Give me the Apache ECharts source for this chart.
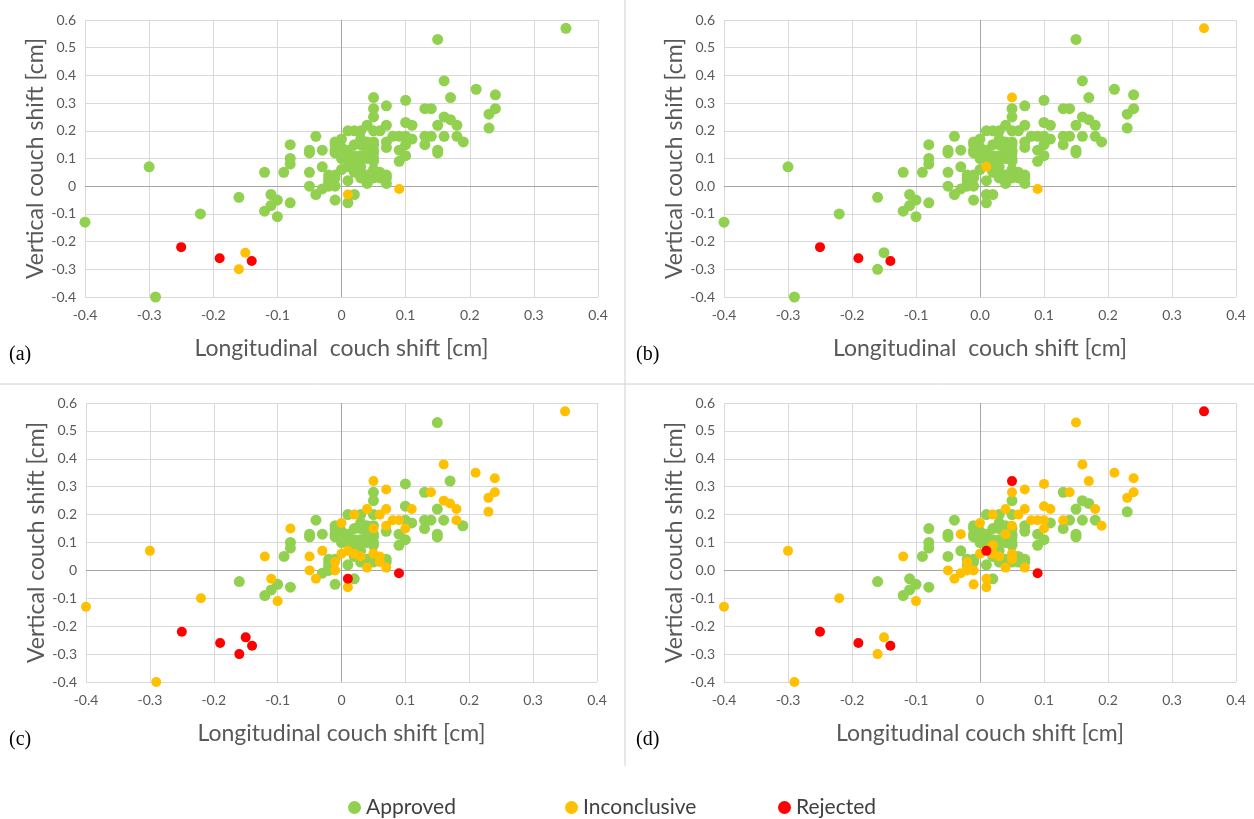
<!DOCTYPE html>
<html lang="en">
<head>
    <meta charset="utf-8">
    <title>Couch shift verdicts</title>
    <script src="https://cdn.jsdelivr.net/npm/echarts@6/dist/echarts.min.js"></script>
    <style>
        html, body { margin: 0; padding: 0; background: #fff; }
        #container { width: 1254px; height: 819px; }
    </style>
</head>
<body>
<div id="container"></div>
<script>
    // each point: [longitudinal, vertical, verdict in panel a/b/c/d]
    // G = Approved, O = Inconclusive, R = Rejected
    var lowerLeftPts = [
        [-0.40, -0.13, 'GGOO'], [-0.29, -0.40, 'GGOO'], [-0.30, 0.07, 'GGOO'],
        [-0.22, -0.10, 'GGOO'], [-0.25, -0.22, 'RRRR'], [-0.19, -0.26, 'RRRR'],
        [-0.14, -0.27, 'RRRR'], [-0.15, -0.24, 'OGRO'], [-0.16, -0.30, 'OGRO'],
        [-0.16, -0.04, 'GGGG'], [-0.12, 0.05, 'GGOO'], [-0.09, 0.05, 'GGGG'],
        [-0.11, -0.03, 'GGOG'], [-0.10, -0.05, 'GGGG'], [-0.11, -0.07, 'GGGG'],
        [-0.12, -0.09, 'GGGG'], [-0.10, -0.11, 'GGOO'], [-0.08, -0.06, 'GGGG'],
        [-0.08, 0.15, 'GGOG'], [-0.08, 0.10, 'GGGG'], [-0.08, 0.08, 'GGGG'],
        [-0.05, 0.13, 'GGGG'], [-0.05, 0.12, 'GGGG'], [-0.05, 0.05, 'GGOG'],
        [-0.05, 0.00, 'GGOO'], [-0.04, -0.03, 'GGOO'], [-0.04, 0.18, 'GGGG'],
        [-0.03, 0.13, 'GGGO'], [-0.03, 0.07, 'GGOG'], [-0.01, -0.05, 'GGGO'],
        [-0.03, -0.01, 'GGGO']
    ];
    var clusterPts = [
        [0.01, -0.03, 'OGRO'], [0.09, -0.01, 'OORR'], [0.02, -0.03, 'GGGG'],
        [0.01, -0.06, 'GGOO'], [0.01, 0.02, 'GGGG'],
        [0.00, 0.17, 'GGOO'], [-0.01, 0.16, 'GGGG'], [-0.01, 0.15, 'GGGG'],
        [-0.01, 0.13, 'GGGG'], [-0.01, 0.12, 'GGGG'], [0.00, 0.14, 'GGGG'],
        [0.00, 0.11, 'GGGG'], [0.00, 0.10, 'GGGG'], [0.00, 0.12, 'GGGG'],
        [0.01, 0.13, 'GGGG'], [0.01, 0.10, 'GGGG'], [0.01, 0.07, 'GOOR'],
        [0.00, 0.06, 'GGOO'], [0.02, 0.06, 'GGOO'], [0.03, 0.05, 'GGOO'],
        [0.02, 0.15, 'GGGG'], [0.02, 0.11, 'GGGG'], [0.02, 0.09, 'GGGO'],
        [0.02, 0.08, 'GGGG'], [0.02, 0.05, 'GGGG'], [0.03, 0.17, 'GGGG'],
        [0.03, 0.15, 'GGGG'], [0.03, 0.11, 'GGGG'], [0.03, 0.10, 'GGGG'],
        [0.03, 0.07, 'GGGG'], [0.03, 0.03, 'GGGG'], [0.04, 0.16, 'GGGG'],
        [0.04, 0.15, 'GGGG'], [0.04, 0.14, 'GGGG'], [0.04, 0.13, 'GGGO'],
        [0.04, 0.12, 'GGGG'], [0.04, 0.10, 'GGGG'], [0.04, 0.04, 'GGGG'],
        [0.04, 0.01, 'GGOO'], [0.05, 0.16, 'GGGO'], [0.05, 0.15, 'GGOG'],
        [0.05, 0.13, 'GGGG'], [0.05, 0.12, 'GGGG'], [0.05, 0.10, 'GGGG'],
        [0.05, 0.09, 'GGGG'], [0.05, 0.06, 'GGOO'], [0.05, 0.05, 'GGGO'],
        [0.05, 0.04, 'GGGO'], [0.05, 0.03, 'GGGG'], [0.06, 0.05, 'GGOG'],
        [0.06, 0.04, 'GGGG'], [0.06, 0.03, 'GGOG'], [0.07, 0.04, 'GGGG'],
        [0.07, 0.03, 'GGGG'], [0.07, 0.01, 'GGOO'], [-0.02, 0.04, 'GGGG'],
        [-0.02, 0.03, 'GGGO'], [-0.02, 0.02, 'GGGG'], [-0.02, 0.01, 'GGGO'],
        [-0.02, 0.00, 'GGGO'], [-0.01, 0.04, 'GGGG'], [-0.01, 0.03, 'GGOG'],
        [-0.01, 0.00, 'GGOO']
    ];
    var upperRightPts = [
        [0.35, 0.57, 'GOOR'], [0.15, 0.53, 'GGGO'], [0.16, 0.38, 'GGOO'],
        [0.21, 0.35, 'GGOO'], [0.24, 0.33, 'GGOO'], [0.17, 0.32, 'GGGO'],
        [0.05, 0.32, 'GOOR'], [0.10, 0.31, 'GGGO'], [0.07, 0.29, 'GGOO'],
        [0.05, 0.28, 'GGGO'], [0.13, 0.28, 'GGGG'], [0.14, 0.28, 'GGOO'],
        [0.24, 0.28, 'GGOO'], [0.23, 0.26, 'GGOO'], [0.05, 0.25, 'GGGG'],
        [0.16, 0.25, 'GGOG'], [0.17, 0.24, 'GGOG'], [0.18, 0.22, 'GGOO'],
        [0.15, 0.22, 'GGGG'], [0.23, 0.21, 'GGOG'], [0.10, 0.23, 'GGGO'],
        [0.11, 0.22, 'GGOO'], [0.07, 0.22, 'GGOO'], [0.04, 0.22, 'GGOO'],
        [0.01, 0.20, 'GGGG'], [0.02, 0.20, 'GGOO'], [0.03, 0.20, 'GGGG'],
        [0.05, 0.20, 'GGGG'], [0.06, 0.20, 'GGOO'], [0.16, 0.18, 'GGGG'],
        [0.18, 0.18, 'GGOG'], [0.13, 0.18, 'GGGO'], [0.14, 0.18, 'GGGG'],
        [0.19, 0.16, 'GGGO'], [0.08, 0.18, 'GGOO'], [0.09, 0.18, 'GGOO'],
        [0.10, 0.18, 'GGGO'], [0.11, 0.17, 'GGGG'], [0.13, 0.15, 'GGGG'],
        [0.15, 0.13, 'GGGG'], [0.15, 0.12, 'GGGG'], [0.09, 0.13, 'GGGG'],
        [0.10, 0.15, 'GGOO'], [0.07, 0.16, 'GGOG'], [0.07, 0.14, 'GGGG'],
        [0.10, 0.11, 'GGGG'], [0.09, 0.09, 'GGGG']
    ];

    var panelLabels = ['(a)', '(b)', '(c)', '(d)'];
    var xTitles = ['Longitudinal  couch shift [cm]', 'Longitudinal  couch shift [cm]',
        'Longitudinal couch shift [cm]', 'Longitudinal couch shift [cm]'];
    var yTitle = 'Vertical couch shift [cm]';
    // tick labels: true = one decimal ("0.0"), false = plain ("0")
    var xFixed = [false, true, false, false];
    var yFixed = [false, true, false, true];
    var verdicts = ['Approved', 'Inconclusive', 'Rejected'];
    var verdictCodes = ['G', 'O', 'R'];
    var verdictColors = ['#92d050', '#ffc000', '#ff0000'];
    var verdictSizes = [11, 10, 10];

    var allPts = lowerLeftPts.concat(clusterPts, upperRightPts);

    var grids = [
        {left: 85, top: 20, width: 513, height: 277},
        {left: 724, top: 20, width: 512, height: 277},
        {left: 86, top: 403, width: 511, height: 279},
        {left: 724, top: 403, width: 512, height: 279}
    ];

    function fmt(fixed) {
        return function (v) {
            var r = Math.round(v * 10) / 10;
            if (fixed) return r.toFixed(1);
            return String(r);
        };
    }

    var font = 'Lato, "Open Sans", sans-serif';
    var xAxes = [], yAxes = [], series = [], graphics = [];

    for (var p = 0; p < 4; p++) {
        xAxes.push({
            gridIndex: p, type: 'value', min: -0.4, max: 0.4, interval: 0.1,
            name: xTitles[p], nameLocation: 'middle', nameGap: 40,
            nameTextStyle: {color: '#595959', fontSize: 23, fontFamily: font},
            axisLine: {show: false, onZero: false}, axisTick: {show: false},
            axisLabel: {color: '#595959', fontSize: 14, fontFamily: font, margin: 11, formatter: fmt(xFixed[p])},
            splitLine: {show: true, lineStyle: {color: '#d9d9d9', width: 1}}
        });
        yAxes.push({
            gridIndex: p, type: 'value', min: -0.4, max: 0.6, interval: 0.1,
            name: yTitle, nameLocation: 'middle', nameGap: 38, nameRotate: 90,
            nameTextStyle: {color: '#595959', fontSize: 23, fontFamily: font},
            axisLine: {show: false, onZero: false}, axisTick: {show: false},
            axisLabel: {color: '#595959', fontSize: 14, fontFamily: font, margin: 9, formatter: fmt(yFixed[p])},
            splitLine: {show: true, lineStyle: {color: '#d9d9d9', width: 1}}
        });
        for (var s = 0; s < 3; s++) {
            var code = verdictCodes[s];
            var data = allPts.filter(function (pt) { return pt[2].charAt(p) === code; })
                .map(function (pt) { return [pt[0], pt[1]]; });
            var ser = {
                name: verdicts[s], type: 'scatter', xAxisIndex: p, yAxisIndex: p,
                symbolSize: verdictSizes[s], data: data,
                itemStyle: {color: verdictColors[s], opacity: 1},
                z: 3 + s
            };
            if (s === 0) {
                // darker zero lines like the spreadsheet axes
                ser.markLine = {
                    silent: true, symbol: 'none', label: {show: false},
                    lineStyle: {color: '#a6a6a6', width: 1, type: 'solid'},
                    data: [{xAxis: 0}, {yAxis: 0}], z: 1
                };
            }
            series.push(ser);
        }
        graphics.push({
            type: 'text', left: p % 2 === 0 ? 9 : 636, top: p < 2 ? 345 : 730,
            style: {text: panelLabels[p], fill: '#000', fontSize: 20, fontFamily: '"Liberation Serif", serif'}
        });
    }

    // panel dividers
    graphics.push({type: 'line', shape: {x1: 0, y1: 384, x2: 1254, y2: 384}, style: {stroke: '#d0d0d0', lineWidth: 1}});
    graphics.push({type: 'line', shape: {x1: 625, y1: 0, x2: 625, y2: 766}, style: {stroke: '#d0d0d0', lineWidth: 1}});

    // one legend per verdict so the columns sit where the spreadsheet put them
    var legendLefts = [343, 560, 773];
    var legends = verdicts.map(function (name, i) {
        return {
            data: [name], top: 792, left: legendLefts[i], icon: 'circle',
            itemWidth: 13, itemHeight: 13,
            textStyle: {color: '#404040', fontSize: 21, fontFamily: font}
        };
    });

    var myChart = echarts.init(document.getElementById('container'));
    myChart.setOption({
        animation: false,
        grid: grids,
        xAxis: xAxes,
        yAxis: yAxes,
        legend: legends,
        graphic: graphics,
        series: series
    });
</script>
</body>
</html>
